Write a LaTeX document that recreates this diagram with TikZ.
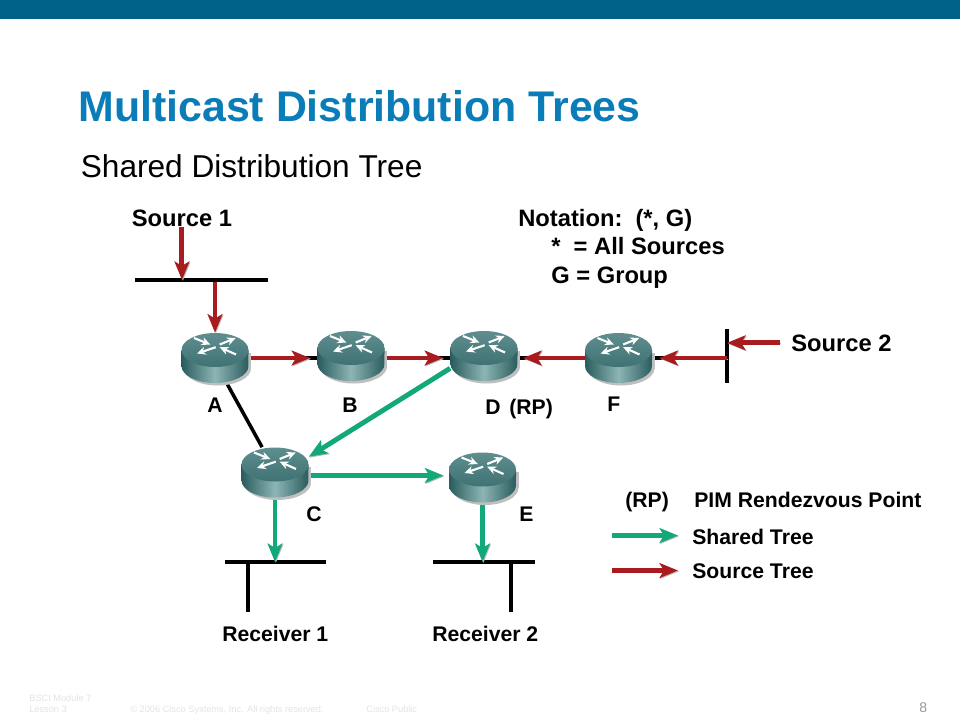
\documentclass[tikz,border=0pt]{standalone}
\usepackage{fontspec}
\setmainfont{Liberation Sans}
\usepackage{xcolor}
\usetikzlibrary{arrows.meta,positioning,calc}
\definecolor{barblue}{HTML}{006289}
\definecolor{titleblue}{HTML}{0A7DB8}
\definecolor{srcred}{HTML}{A81C20}
\definecolor{shgreen}{HTML}{12A87A}
\definecolor{tealdark}{HTML}{2A5C5D}
\definecolor{teallight}{HTML}{8DB5B5}
\definecolor{tealtop}{HTML}{3F7273}
\definecolor{tealtopb}{HTML}{5F8E8F}

\begin{document}
\begin{tikzpicture}[
    x=0.02cm, y=-0.02cm,
    lab/.style={font=\bfseries\fontsize{12.05}{14}\selectfont, inner sep=0pt, anchor=base west},
    bigger/.style={lab, font=\bfseries\fontsize{13.5}{16}\selectfont},
    foot/.style={font=\fontsize{5.25}{7}\selectfont, text=black!11, inner sep=0pt, anchor=base west},
    lanbus/.style={fill=black, inner sep=0pt, minimum height=2pt},
    routerbox/.style={inner sep=0pt, minimum width=1.34cm, minimum height=1cm},
    link/.style={line width=2pt, black},
    tree/.style={line width=2.8pt, -{Stealth[length=10.5pt, width=8.4pt, inset=2.5pt]},
                 preaction={draw=black!28, transform canvas={xshift=.5pt, yshift=-.5pt}}},
    srctree/.style={tree, draw=srcred, fill=srcred},
    shtree/.style={tree, draw=shgreen, fill=shgreen},
    wing/.style={white, line width=1.2pt, -{Stealth[length=5pt, width=4.6pt]}},
    routericon/.pic={
      \fill[black!25] (2.5,10.5) ellipse [x radius=.67cm, y radius=.34cm];
      \fill[black!25] (-31,-5.5) rectangle (36,10.5);
      \shade[left color=tealdark, right color=tealdark, middle color=teallight]
        (-33.5,-8) -- (-33.5,8) arc [start angle=180, end angle=360, x radius=.67cm, y radius=.34cm]
        -- (33.5,-8) -- cycle;
      \shade[top color=tealtopb, bottom color=tealtop] (0,-8) ellipse [x radius=.67cm, y radius=.34cm];
      \draw[wing] (-21,-20) -- (-4.7,-13.5);
      \draw[wing] (4.7,-13.5) -- (20.7,-20);
      \draw[wing] (0.7,-10.8) -- (-18,-4.5);
      \draw[wing] (21,-3.5) -- (4.7,-10.8);
    },
]
\useasboundingbox (0,0) rectangle (960,720);
\fill[barblue] (0,0) rectangle (960,19);

% --- headings ---
\node[inner sep=0pt, anchor=base west, text=titleblue, font=\bfseries\fontsize{24.4}{28}\selectfont]
  (title) at (78,121) {Multicast Distribution Trees};
\node[inner sep=0pt, anchor=base west, font=\fontsize{18}{22}\selectfont]
  (subtitle) at (80.5,177) {Shared Distribution Tree};

% --- notation ---
\node[bigger] (src1) at (131.5,226) {Source 1};
\node[bigger] (nota) at (518,226) {Notation:\ \ (*, G)};
\node[bigger] (allsrc) at (551,254) {*\ \ = All Sources};
\node[bigger] (group) at (551,283) {G = Group};
\node[bigger] (src2) at (791,351) {Source 2};

% --- LAN segments ---
\node[lanbus, minimum width=2.66cm] (lan1) at (201.5,280) {};
\node[lanbus, minimum height=1.08cm, minimum width=2pt] (lan2) at (727,356) {};
\node[lanbus, minimum width=2.02cm] (lan3) at (275.5,562) {};
\node[lanbus, minimum width=2.04cm] (lan4) at (484,562) {};
\coordinate (rx1) at (248,612);
\coordinate (rx2) at (511,612);

% --- routers ---
\node[routerbox] (A) at (215,358) {};
\node[routerbox] (B) at (351,356) {};
\node[routerbox] (D) at (484,356) {};
\node[routerbox] (F) at (618.5,358) {};
\node[routerbox] (C) at (275,472.5) {};
\node[routerbox] (E) at (482.5,477.5) {};

% --- black links ---
\draw[link] (A.-65) -- (C.117);
\draw[link] (A.east) -- (A.east -| B.west);
\draw[link] (B.east |- A.east) -- (B.east |- A.east -| D.west);
\draw[link] (F.west) -- (F.west -| D.east);
\draw[link] (lan2.center |- F.east) -- (F.east);
\draw[link] (rx1 |- lan3.south) -- (rx1);
\draw[link] (rx2 |- lan4.south) -- (rx2);

% --- source tree ---
\draw[srctree] (src1.south) -- (src1.south |- lan1.center);
\draw[srctree] (A.north |- lan1.south) -- (A.north);
\draw[srctree, shorten >=4pt] (A.east) -- (A.east -| B.west);
\draw[srctree, shorten >=4pt] (B.east |- A.east) -- (B.east |- A.east -| D.west);
\draw[srctree, shorten >=3pt] (F.west) -- (F.west -| D.east);
\draw[srctree, shorten >=4pt] (lan2.center |- F.east) -- (F.east);
\draw[srctree, shorten <=6.3pt] (src2.west) -- (src2.west -| lan2.center);

% --- shared tree ---
\draw[shtree] (D.200) -- (C.25);
\draw[shtree, shorten >=3pt] (C.east |- E.west) ++(0,-2) -- ($(E.west)+(0,-2)$);
\draw[shtree] (C.south) -- (C.south |- lan3.center);
\draw[shtree] (E.south) -- (E.south |- lan4.center);

% --- router icons on top ---
\foreach \rname in {A,B,D,F,C,E}
  \pic at (\rname) {routericon};

% --- router labels ---
\node[lab] (lblA) at (207,412) {A};
\node[lab] (lblB) at (342,412) {B};
\node[lab] (lblD) at (485,414) {D};
\node[lab] (lblRP) at (509,414) {(RP)};
\node[lab] (lblF) at (607,411) {F};
\node[lab] (lblC) at (306,521) {C};
\node[lab] (lblE) at (519,521) {E};
\node[lab] (rcv1) at (222,641) {Receiver 1};
\node[lab] (rcv2) at (432,641) {Receiver 2};

% --- legend ---
\node[lab] (keyRP) at (625,507) {(RP)};
\node[lab] (keyPIM) at (694,507) {PIM Rendezvous Point};
\node[lab] (keySh) at (692,544) {Shared Tree};
\node[lab] (keySrc) at (692,578) {Source Tree};
\coordinate (shkey) at (612,535.5);
\coordinate (srckey) at (612,570.5);
\draw[shtree] (shkey) -- ++(66,0);
\draw[srctree] (srckey) -- ++(66,0);

% --- footer ---
\node[foot] (fmod) at (29,701) {BSCI Module 7};
\node[foot] (fles) at (29,712) {Lesson 3};
\node[foot] (fcopy) at (130,712) {© 2006 Cisco Systems, Inc. All rights reserved.};
\node[foot] (fpub) at (366,712) {Cisco Public};
\node[inner sep=0pt, anchor=base west, text=black!40, font=\fontsize{8}{10}\selectfont] (pageno) at (919,712) {8};
\end{tikzpicture}
\end{document}
